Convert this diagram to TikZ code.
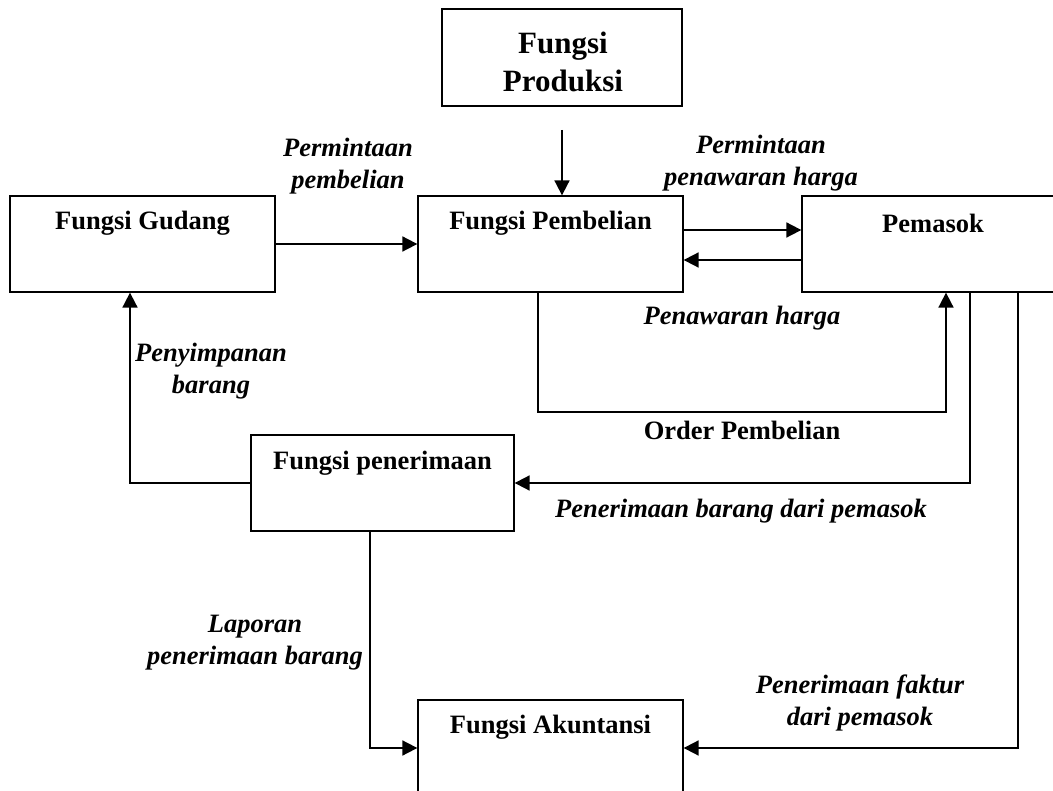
\documentclass[tikz,border=0pt]{standalone}
\usepackage{fontspec}
\setmainfont{Liberation Serif}
\usetikzlibrary{arrows.meta}
\tikzset{
  box/.style={draw, line width=1.3pt, inner sep=0pt, minimum width=265pt, minimum height=96pt},
  boxtext/.style={inner sep=0pt, font=\fontsize{26.5}{32}\selectfont\bfseries},
  lbl/.style={inner sep=0pt, align=center, font=\fontsize{26.5}{32}\selectfont\bfseries\itshape},
  arr/.style={line width=1.8pt, -{Triangle[length=15pt,width=15pt]}},
}
\begin{document}
\begin{tikzpicture}[x=1pt,y=-1pt]
\useasboundingbox (0,0) rectangle (1053,791);
\clip (0,0) rectangle (1053,791);
\fill[white] (0,0) rectangle (1053,791);

% boxes
\node[box, minimum width=240pt, minimum height=97pt] (prod) at (562,57.5) {};
\node[inner sep=0pt, align=center, font=\fontsize{31}{38}\selectfont\bfseries] (prodt) at (563,62) {Fungsi\\Produksi};

\node[box] (gud) at (142.5,244) {};
\node[boxtext] (gudt) at (142.5,223) {Fungsi Gudang};

\node[box] (pem) at (550.5,244) {};
\node[boxtext] (pemt) at (550.5,223) {Fungsi Pembelian};

\node[box, minimum width=260pt] (pms) at (932,244) {};
\node[boxtext] (pmst) at (933,223) {Pemasok};

\node[box, minimum width=263pt] (pen) at (382.5,483) {};
\node[boxtext] (pent) at (382.5,463) {Fungsi penerimaan};

\node[box] (aku) at (550.5,748) {};
\node[boxtext] (akut) at (550.5,727) {Fungsi Akuntansi};

% connectors
\coordinate (pa) at (562,130);
\draw[arr] (pa) -- (pa |- pem.north);

\draw[arr] (gud.east) -- (pem.west);

\draw[arr] ([yshift=14pt]pem.east) -- ([yshift=14pt]pms.west);
\draw[arr] ([yshift=-16pt]pms.west) -- ([yshift=-16pt]pem.east);

\coordinate (ord) at (946,412);
\draw[arr] ([xshift=-12.5pt]pem.south) |- (ord) -- (ord |- pms.south);

\draw[arr] ([xshift=38pt]pms.south) |- (pen.east);
\draw[arr] ([xshift=86pt]pms.south) |- (aku.east);

\draw[arr] (pen.west) -| ([xshift=-12.5pt]gud.south);
\draw[arr] ([xshift=-12.5pt]pen.south) |- (aku.west);

% labels
\node[lbl] (l1) at (348,166) {Permintaan\\pembelian};
\node[lbl] (l2) at (761,163) {Permintaan\\penawaran harga};
\node[lbl] (l3) at (742,318) {Penawaran harga};
\node[inner sep=0pt, font=\fontsize{26.5}{32}\selectfont\bfseries] (l4) at (742,430) {Order Pembelian};
\node[lbl] (l5) at (211,371) {Penyimpanan\\barang};
\node[lbl] (l6) at (741,511) {Penerimaan barang dari pemasok};
\node[lbl] (l7) at (255,643) {Laporan\\penerimaan barang};
\node[lbl] (l8) at (860,703) {Penerimaan faktur\\dari pemasok};
\end{tikzpicture}
\end{document}
